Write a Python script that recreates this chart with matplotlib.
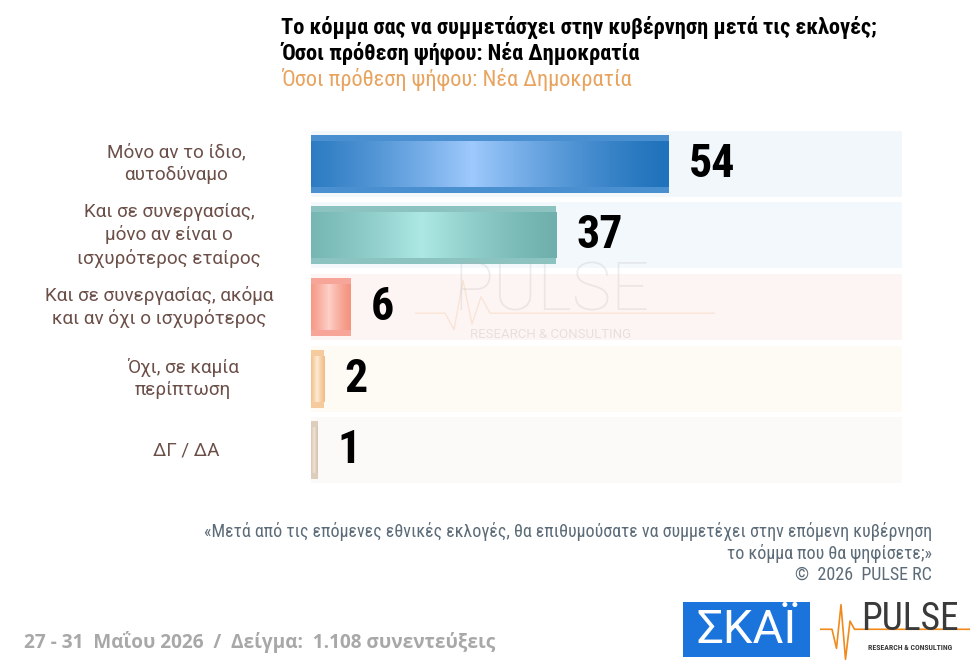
import numpy as np
import matplotlib
matplotlib.use("Agg")
import matplotlib.pyplot as plt
from matplotlib.patches import Rectangle

# data
categories = [
    "Μόνο αν το ίδιο,\nαυτοδύναμο",
    "Και σε συνεργασίας,\nμόνο αν είναι ο\nισχυρότερος εταίρος",
    "Και σε συνεργασίας, ακόμα\nκαι αν όχι ο ισχυρότερος",
    "Όχι, σε καμία\nπερίπτωση",
    "ΔΓ / ΔΑ",
]
values = [54, 37, 6, 2, 1]
edge_colors = ["#1f72bb", "#6fb0ad", "#f4937f", "#f2bd86", "#d7c3ad"]
mid_colors = ["#9ec9fc", "#ade8e4", "#fdd0c8", "#fdebd5", "#efe4d8"]
stripe_colors = ["#4a90d0", "#8cc3c0", "#f6a598", "#f5cb9e", "#ddcdbb"]
row_bg = ["#f2f7fb", "#f3f8fc", "#fdf5f3", "#fefaf4", "#fcfaf8"]

title_lines = "Το κόμμα σας να συμμετάσχει στην κυβέρνηση μετά τις εκλογές;\nΌσοι πρόθεση ψήφου: Νέα Δημοκρατία"
subtitle = "Όσοι πρόθεση ψήφου: Νέα Δημοκρατία"
question = "«Μετά από τις επόμενες εθνικές εκλογές, θα επιθυμούσατε να συμμετέχει στην επόμενη κυβέρνηση\nτο κόμμα που θα ψηφίσετε;»\n©  2026  PULSE RC"
footer = "27 - 31  Μαΐου 2026  /  Δείγμα:  1.108 συνεντεύξεις"

COND = ["Roboto Condensed", "DejaVu Sans"]
ROBO = ["Roboto", "DejaVu Sans"]
plt.rcParams["font.family"] = COND

W, H = 978, 665
fig = plt.figure(figsize=(W / 100, H / 100), dpi=100)
fig.patch.set_facecolor("white")

def px(x, y):
    return x / W, 1 - y / H

# main axes
x0, x1, y0, y1 = 311, 902, 128, 486
ax = fig.add_axes([x0 / W, 1 - y1 / H, (x1 - x0) / W, (y1 - y0) / H])
xmax = 89.2
n = len(values)
ys = np.arange(n)
label_x = [176, 169, 159, 183, 186]  # pixel centres of category labels

ax.barh(ys, [xmax] * n, height=0.92, color=row_bg, zorder=0)
ax.barh(ys, values, height=0.81, color=stripe_colors, zorder=1)

t = np.linspace(0, 1, 256)
prof = np.clip(1 - np.abs(t - 0.45) / 0.55, 0, 1) ** 1.3
for i, v in enumerate(values):
    c0 = np.array(matplotlib.colors.to_rgb(edge_colors[i]))
    c1 = np.array(matplotlib.colors.to_rgb(mid_colors[i]))
    grad = c0[None, :] + (c1 - c0)[None, :] * prof[:, None]
    ax.imshow(grad[None, :, :], extent=(0, v, i + 0.32, i - 0.32),
              aspect="auto", interpolation="bilinear", zorder=2)
    ax.text(v + 3.0, i, str(v), va="center", ha="left", fontsize=33,
            fontweight="bold", color="black", zorder=3)
    lx = (label_x[i] - x0) / (x1 - x0) * xmax
    ax.text(lx, i, categories[i], va="center", ha="center", fontsize=13.6,
            color="#6b4f48", linespacing=1.3, family=ROBO, clip_on=False)

ax.set_xlim(0, xmax)
ax.set_ylim(n - 0.5, -0.5)
ax.axis("off")

# watermark
fig.text(*px(551, 292), "PULSE", fontsize=48, color="#b0b0b0", alpha=0.22,
         ha="center", va="center", family=ROBO, fontweight="light")
fig.text(*px(551, 334), "RESEARCH & CONSULTING", fontsize=9.5, color="#b0b0b0",
         alpha=0.3, ha="center", va="center", family=ROBO)
wm = fig.add_axes([415 / W, 1 - 335 / H, 300 / W, 60 / H])
wx = [0, 0.1, 0.13, 0.16, 0.19, 0.22, 0.25, 1.0]
wy = [0.3, 0.3, 0.0, 0.9, 0.1, 0.6, 0.3, 0.3]
wm.plot(wx, wy, color="#f0a060", alpha=0.2, lw=1)
wm.set_xlim(0, 1)
wm.set_ylim(-0.1, 1)
wm.axis("off")

# titles
fig.text(*px(281, 16), title_lines, fontsize=16.1, fontweight="bold", color="black",
         ha="left", va="top", linespacing=1.15)
fig.text(*px(281, 68), subtitle, fontsize=16.1, color="#e8a35e", ha="left", va="top")

# question note
fig.text(*px(932, 522), question, fontsize=13, color="#5b6b78", ha="right", va="top",
         linespacing=1.2)

# footer
fig.text(*px(24, 642), footer, fontsize=13.7, fontweight="bold", color="#a8a8a8",
         ha="left", va="center", family=["Open Sans", "DejaVu Sans"])

# logos
fig.patches.append(Rectangle(px(683, 657), 127 / W, 55 / H, transform=fig.transFigure,
                             facecolor="#1b73dc", edgecolor="none"))
fig.text(*px(747, 630), "ΣΚΑΪ", fontsize=34, color="white", ha="center", va="center",
         family=ROBO, fontweight="normal")
fig.text(*px(910, 619), "PULSE", fontsize=27, color="#3a3a3a", ha="center", va="center",
         fontweight="normal")
fig.text(*px(910, 648), "RESEARCH & CONSULTING", fontsize=5.6, color="#3a3a3a",
         ha="center", va="center", fontweight="bold")
lg = fig.add_axes([820 / W, 1 - 662 / H, 150 / W, 60 / H])
lx_ = [0, 0.08, 0.11, 0.14, 0.17, 0.2, 0.23, 1.0]
ly_ = [0.55, 0.55, 0.2, 1.0, 0.0, 0.7, 0.55, 0.55]
lg.plot(lx_, ly_, color="#f08a1c", lw=1.2)
lg.set_xlim(0, 1)
lg.set_ylim(-0.05, 1.05)
lg.axis("off")

fig.savefig("out.png", dpi=100)
